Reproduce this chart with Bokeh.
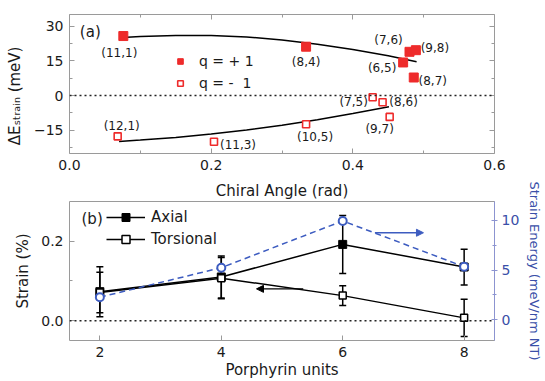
import numpy as np
from bokeh.plotting import figure
from bokeh.layouts import column
from bokeh.models import (Range1d, LinearAxis, Label, Whisker, ColumnDataSource, Arrow,
                          NormalHead, Span, FixedTicker, TeeHead, NumeralTickFormatter,
                          Legend, LegendItem)
from bokeh.embed import file_html
from bokeh.resources import INLINE
from bokeh.core.properties import value

# ---------------- panel (a) data ----------------
pos_labels = ["(11,1)", "(8,4)", "(7,6)", "(9,8)", "(6,5)", "(8,7)"]
pos_angle = [0.076, 0.334, 0.480, 0.489, 0.471, 0.486]
pos_energy = [25.7, 21.1, 18.9, 19.6, 14.3, 7.8]

neg_labels = ["(12,1)", "(11,3)", "(10,5)", "(7,5)", "(8,6)", "(9,7)"]
neg_angle = [0.068, 0.204, 0.334, 0.428, 0.442, 0.452]
neg_energy = [-17.6, -19.9, -12.4, -0.7, -2.9, -9.2]

fit_pos_angle = [0.075, 0.10, 0.15, 0.20, 0.25, 0.30, 0.35, 0.40, 0.45, 0.49]
fit_pos_energy = [25.1, 25.5, 25.9, 25.9, 25.3, 24.0, 22.2, 19.9, 17.2, 14.6]
fit_neg_angle = [0.07, 0.10, 0.15, 0.20, 0.25, 0.30, 0.35, 0.40, 0.451]
fit_neg_energy = [-19.8, -19.2, -18.1, -16.6, -14.9, -12.8, -10.4, -7.7, -4.8]

# label offsets (pixels) for the tube annotations
pos_dx = [-4, 0, -21, 19, -21, 19]
pos_dy = [17, 15, -12, -2, 6, 3]
neg_dx = [4, 24, 9, -19, 21, -10]
neg_dy = [-10, 3, 13, 5, 0, 12]

# ---------------- panel (b) data ----------------
units = [2, 4, 6, 8]
axial = [0.073, 0.110, 0.192, 0.135]
axial_err = [0.063, 0.053, 0.073, 0.045]
torsional = [0.071, 0.107, 0.063, 0.007]
torsional_err = [0.051, 0.052, 0.025, 0.047]
strain_energy = [2.27, 5.23, 9.93, 5.33]

RED = "#ee2b2b"
BLUE = "#3d5cc0"
BLUE_AX = "#3a4fa8"
GREY = "#9a9a9a"
FONT = "DejaVu Sans"
TXT = "#1a1a1a"
NB = "\u00a0"


def style_axis(ax, grey=GREY):
    ax.axis_line_color = None
    ax.major_tick_line_color = grey
    ax.minor_tick_line_color = grey
    ax.major_tick_in = 5
    ax.major_tick_out = 0
    ax.minor_tick_in = 3
    ax.minor_tick_out = 0
    ax.major_label_text_font = FONT
    ax.major_label_text_font_size = "14px"
    ax.major_label_text_color = TXT
    ax.axis_label_text_font = FONT
    ax.axis_label_text_font_size = "15px"
    ax.axis_label_text_font_style = "normal"
    ax.axis_label_text_color = TXT


def mirror_axis(p, side, ticker):
    ax = LinearAxis(ticker=ticker)
    style_axis(ax)
    ax.major_label_text_font_size = "1px"
    ax.major_label_text_color = None
    ax.major_label_standoff = 0
    p.add_layout(ax, side)


# ================= panel (a) =================
PA_H = 176
pa = figure(width=545, height=PA_H, output_backend="svg", toolbar_location=None,
            x_range=Range1d(0, 0.6), y_range=Range1d(-25, 35),
            min_border_left=69, min_border_right=51, min_border_top=14, min_border_bottom=23)
pa.grid.visible = False
pa.outline_line_color = GREY

pa.xaxis.ticker = FixedTicker(ticks=[0, 0.2, 0.4, 0.6], minor_ticks=[0.1, 0.3, 0.5])
pa.yaxis.ticker = FixedTicker(ticks=[-15, 0, 15, 30], minor_ticks=[-22.5, -7.5, 7.5, 22.5])
pa.xaxis.formatter = NumeralTickFormatter(format="0.0")
for ax in pa.xaxis + pa.yaxis:
    style_axis(ax)
pa.xaxis.major_label_standoff = 6
pa.yaxis.major_label_standoff = 6
pa.yaxis.axis_label = "ΔEₛₜᵣₐᵢₙ (meV)" + NB * 5
pa.yaxis.axis_label_standoff = 7
mirror_axis(pa, "above", FixedTicker(ticks=[0, 0.2, 0.4, 0.6], minor_ticks=[0.1, 0.3, 0.5]))
mirror_axis(pa, "right", FixedTicker(ticks=[-15, 0, 15, 30], minor_ticks=[-22.5, -7.5, 7.5, 22.5]))

pa.add_layout(Span(location=0, dimension="width", line_color="#222222",
                   line_dash="2 3", line_width=1.5))

pa.line(fit_pos_angle, fit_pos_energy, line_color="black", line_width=1.5)
pa.line(fit_neg_angle, fit_neg_energy, line_color="black", line_width=1.5)

r_pos = pa.scatter(pos_angle, pos_energy, marker="square", size=9,
                   fill_color=RED, line_color=RED)
r_neg = pa.scatter(neg_angle, neg_energy, marker="square", size=7,
                   fill_color="white", line_color=RED, line_width=1.6)

src_pl = ColumnDataSource(dict(x=pos_angle, y=pos_energy, t=pos_labels, dx=pos_dx, dy=pos_dy))
src_nl = ColumnDataSource(dict(x=neg_angle, y=neg_energy, t=neg_labels, dx=neg_dx, dy=neg_dy))
for s in (src_pl, src_nl):
    pa.text(x="x", y="y", text="t", x_offset="dx", y_offset="dy", source=s,
            text_font=value(FONT), text_font_size="12px", text_color=TXT,
            text_align="center", text_baseline="middle")

leg_a = Legend(items=[LegendItem(label=value("q = + 1"), renderers=[r_pos]),
                      LegendItem(label=value("q = -  1"), renderers=[r_neg])],
               location=(104, 60), padding=0, margin=0, spacing=2,
               glyph_width=14, glyph_height=20, label_height=20, label_standoff=12,
               label_text_font=FONT, label_text_font_size="14px", label_text_color=TXT,
               border_line_color=None, background_fill_alpha=0)
pa.add_layout(leg_a)

pa.add_layout(Label(x=0.0146, y=27.5, text="(a)", text_font=FONT, text_font_size="15px",
                    text_color=TXT, text_baseline="middle", text_align="left"))

# ================= panel (b) =================
PB_H = 381 - PA_H
pb = figure(width=545, height=PB_H, output_backend="svg", toolbar_location=None,
            x_range=Range1d(1.5, 8.5), y_range=Range1d(-0.05, 0.3),
            title="Chiral Angle (rad)",
            min_border_left=69, min_border_right=51, min_border_top=25, min_border_bottom=41)
pb.grid.visible = False
pb.outline_line_color = GREY
pb.title.align = "center"
pb.title.text_font = FONT
pb.title.text_font_size = "15px"
pb.title.text_font_style = "normal"
pb.title.text_color = TXT
pb.title.standoff = 4
pb.extra_y_ranges = {"energy": Range1d(-2.08, 11.88)}

pb.xaxis.ticker = FixedTicker(ticks=[2, 4, 6, 8])
pb.yaxis.ticker = FixedTicker(ticks=[0.0, 0.2], minor_ticks=[0.1])
pb.yaxis.formatter = NumeralTickFormatter(format="0.0")
for ax in pb.xaxis + pb.yaxis:
    style_axis(ax)
pb.xaxis.axis_label = "Porphyrin units"
pb.xaxis.major_label_standoff = 6
pb.xaxis.axis_label_standoff = 1
pb.yaxis.axis_label = "Strain (%)"
pb.yaxis.major_label_standoff = 6
pb.yaxis.axis_label_standoff = 6

rax = LinearAxis(y_range_name="energy", ticker=FixedTicker(ticks=[0, 5, 10], minor_ticks=[2.5, 7.5]))
style_axis(rax, grey="#8c94d0")
rax.axis_line_color = "#8c94d0"
rax.major_tick_in = 3
rax.major_tick_out = 3
rax.minor_tick_in = 2
rax.minor_tick_out = 2
rax.major_label_text_color = BLUE_AX
rax.axis_label = "Strain Energy (meV/nm NT)"
rax.axis_label_text_color = BLUE_AX
rax.axis_label_text_font_size = "13px"
rax.major_label_standoff = 4
rax.axis_label_standoff = 5
pb.add_layout(rax, "right")

pb.add_layout(Span(location=0, dimension="width", line_color="#222222",
                   line_dash="2 3", line_width=1.5))

ua = np.array(units, dtype=float)
src_ax = ColumnDataSource(dict(x=ua, y=axial,
                               lo=np.array(axial) - np.array(axial_err),
                               hi=np.array(axial) + np.array(axial_err)))
src_to = ColumnDataSource(dict(x=ua, y=torsional,
                               lo=np.array(torsional) - np.array(torsional_err),
                               hi=np.array(torsional) + np.array(torsional_err)))

l_ax = pb.line("x", "y", source=src_ax, line_color="black", line_width=1.5)
l_to = pb.line("x", "y", source=src_to, line_color="black", line_width=1.5)
for s in (src_ax, src_to):
    pb.add_layout(Whisker(base="x", lower="lo", upper="hi", source=s, line_color="black",
                          line_width=1.5,
                          upper_head=TeeHead(size=7, line_width=1.5, line_color="black"),
                          lower_head=TeeHead(size=7, line_width=1.5, line_color="black")))
s_ax = pb.scatter("x", "y", source=src_ax, marker="square", size=8,
                  fill_color="black", line_color="black")
s_to = pb.scatter("x", "y", source=src_to, marker="square", size=7,
                  fill_color="white", line_color="black", line_width=1.5)

pb.line(units, strain_energy, y_range_name="energy", line_color=BLUE,
        line_width=1.5, line_dash="6 4")
pb.scatter(units, strain_energy, y_range_name="energy", marker="circle", size=8,
           fill_color="white", line_color=BLUE, line_width=2)

pb.add_layout(Arrow(x_start=5.35, y_start=0.080, x_end=4.58, y_end=0.080,
                    line_color="black", line_width=1.3,
                    end=NormalHead(size=7, fill_color="black", line_color="black")))
pb.add_layout(Arrow(x_start=6.53, y_start=8.74, x_end=7.33, y_end=8.74,
                    y_range_name="energy", line_color=BLUE, line_width=1.3,
                    end=NormalHead(size=7, fill_color=BLUE, line_color=BLUE)))

leg_b = Legend(items=[LegendItem(label=value("Axial"), renderers=[l_ax, s_ax]),
                      LegendItem(label=value("Torsional"), renderers=[l_to, s_to])],
               location=(37, 91), padding=0, margin=0, spacing=2,
               glyph_width=39, glyph_height=20, label_height=20, label_standoff=6,
               label_text_font=FONT, label_text_font_size="15px", label_text_color=TXT,
               border_line_color=None, background_fill_alpha=0)
pb.add_layout(leg_b)

pb.add_layout(Label(x=1.698, y=0.2547, text="(b)", text_font=FONT, text_font_size="15px",
                    text_color=TXT, text_baseline="middle", text_align="left"))

layout = column(pa, pb, spacing=0)
open("out.html", "w").write(file_html(layout, INLINE))
